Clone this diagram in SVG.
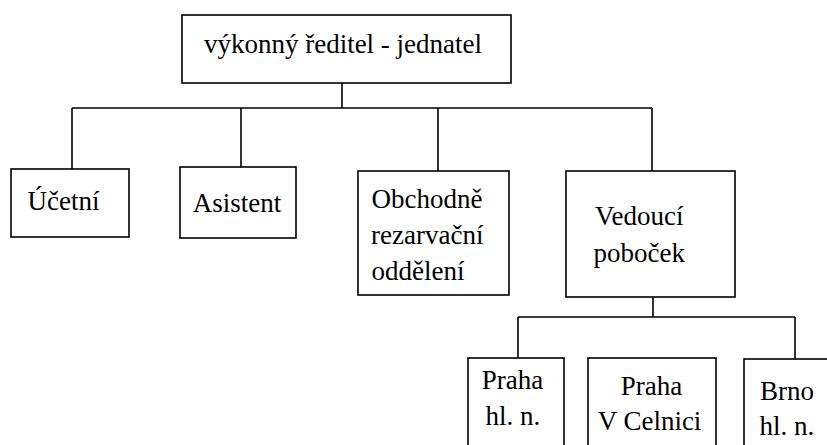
<svg xmlns="http://www.w3.org/2000/svg" width="827" height="445" viewBox="0 0 827 445">
<rect width="827" height="445" fill="#fff"/>
<g id="connectors" fill="none" stroke="#000" stroke-width="1.6">
<path d="M342 83V108M72 108H652M72 108V169M241 108V167M438 108V171M652 108V171"/>
<path d="M653 297V317M518 317H795M518 317V358M795 317V359"/>
</g>
<g font-size="27" fill="#000">
<g id="n-reditel"><rect fill="#fff" stroke="#000" stroke-width="1.6" x="182" y="15" width="329" height="68"/><text font-family="Liberation Serif" text-anchor="middle" x="343" y="53">výkonný ředitel - jednatel</text></g>
<g id="n-ucetni"><rect fill="#fff" stroke="#000" stroke-width="1.6" x="11" y="169" width="118" height="68"/><text font-family="Liberation Serif" text-anchor="middle" x="63.5" y="210">Účetní</text></g>
<g id="n-asistent"><rect fill="#fff" stroke="#000" stroke-width="1.6" x="180" y="167" width="116" height="71"/><text font-family="Liberation Serif" text-anchor="middle" x="237" y="211.5">Asistent</text></g>
<g id="n-obchodne"><rect fill="#fff" stroke="#000" stroke-width="1.6" x="358" y="171" width="151" height="124"/><text font-family="Liberation Serif" x="371.5" y="208">Obchodně</text><text font-family="Liberation Serif" x="371" y="243.5">rezarvační</text><text font-family="Liberation Serif" x="371.5" y="280">oddělení</text></g>
<g id="n-vedouci"><rect fill="#fff" stroke="#000" stroke-width="1.6" x="566" y="171" width="169" height="126"/><text font-family="Liberation Serif" x="595" y="225">Vedoucí</text><text font-family="Liberation Serif" x="593.5" y="261.5">poboček</text></g>
<g id="n-praha-hln"><rect fill="#fff" stroke="#000" stroke-width="1.6" x="468" y="358" width="96" height="100"/><text font-family="Liberation Serif" text-anchor="middle" x="512.5" y="388.5">Praha</text><text font-family="Liberation Serif" text-anchor="middle" x="513" y="425">hl. n.</text></g>
<g id="n-praha-celnici"><rect fill="#fff" stroke="#000" stroke-width="1.6" x="588" y="358" width="128" height="100"/><text font-family="Liberation Serif" text-anchor="middle" x="651.5" y="395">Praha</text><text font-family="Liberation Serif" text-anchor="middle" x="649.5" y="430">V Celnici</text></g>
<g id="n-brno"><rect fill="#fff" stroke="#000" stroke-width="1.6" x="744" y="359" width="100" height="100"/><text font-family="Liberation Serif" x="760" y="400">Brno</text><text font-family="Liberation Serif" x="759.5" y="435">hl. n.</text></g>
</g>
</svg>
